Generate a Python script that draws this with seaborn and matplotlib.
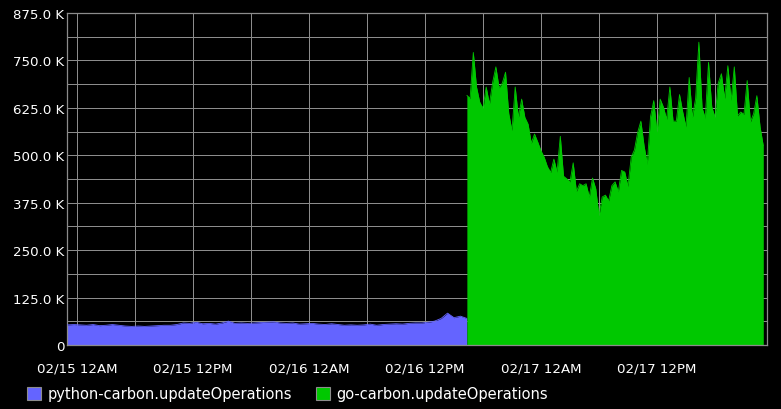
import pandas as pd
import numpy as np
import matplotlib
matplotlib.use("Agg")
import matplotlib.pyplot as plt
import matplotlib.dates as mdates
from matplotlib.patches import Patch
from matplotlib.ticker import FuncFormatter, MultipleLocator
import seaborn as sns

# python-carbon, 40 minute steps starting 02/14 23:00
python_start = "2015-02-14 23:00"
python_ops = [53, 54, 53, 52, 54, 51, 52, 54, 52, 50, 49, 50, 49, 50, 51, 52,
              52, 54, 58, 57, 60, 56, 57, 55, 58, 63, 57, 58, 57, 58, 59, 60,
              61, 58, 57, 58, 55, 56, 57, 55, 54, 56, 54, 52, 53, 52, 53, 55,
              52, 54, 55, 56, 55, 57, 58, 58, 60, 63, 70, 84, 72, 76, 70]

# go-carbon, 20 minute steps starting 02/16 16:20
go_start = "2015-02-16 16:20"
go_ops = [658, 650, 771, 680, 640, 624, 680, 635, 692, 733, 678, 690, 719, 610,
          565, 680, 600, 648, 600, 582, 532, 556, 535, 512, 495, 470, 455, 490,
          456, 550, 445, 438, 430, 480, 405, 425, 420, 425, 390, 440, 412, 341,
          390, 395, 380, 420, 430, 404, 460, 456, 418, 495, 514, 560, 590, 525,
          477, 602, 644, 561, 648, 627, 595, 680, 590, 590, 660, 614, 575, 705,
          600, 650, 798, 625, 598, 745, 628, 600, 690, 715, 650, 736, 645, 733,
          604, 614, 608, 697, 588, 610, 657, 575, 525]

labels = ["python-carbon.updateOperations", "go-carbon.updateOperations"]
colors = ["#6464ff", "#00c800"]

py = pd.DataFrame({"time": pd.date_range(python_start, periods=len(python_ops), freq="40min"),
                   "ops": np.array(python_ops) * 1000.0})
go = pd.DataFrame({"time": pd.date_range(go_start, periods=len(go_ops), freq="20min"),
                   "ops": np.array(go_ops) * 1000.0})

sns.set_style("dark", rc={"axes.facecolor": "black", "figure.facecolor": "black"})
plt.rcParams["font.family"] = ["DejaVu Sans"]

fig = plt.figure(figsize=(7.81, 4.10), dpi=100)
ax = fig.add_axes([67 / 781, 1 - 346 / 410, 700 / 781, 332 / 410])

for df, c in zip([py, go], colors):
    ax.fill_between(df["time"], 0, df["ops"], color=c, lw=0, zorder=2)
    sns.lineplot(data=df, x="time", y="ops", color=c, lw=0.6, ax=ax, zorder=3)

ax.set_xlim(pd.Timestamp("2015-02-14 22:58"), pd.Timestamp("2015-02-17 23:23"))
ax.set_ylim(0, 875000)

ax.xaxis.set_major_locator(mdates.HourLocator(byhour=[0, 12]))
ax.xaxis.set_minor_locator(mdates.HourLocator(byhour=[6, 18]))
ax.xaxis.set_major_formatter(mdates.DateFormatter("%m/%d %I%p"))
ax.yaxis.set_major_locator(MultipleLocator(125000))
ax.yaxis.set_minor_locator(MultipleLocator(62500))
ax.yaxis.set_major_formatter(FuncFormatter(lambda v, p: "0" if v == 0 else f"{v / 1000:.1f} K"))

ax.grid(True, which="both", color="#8c8c8c", lw=0.72, zorder=1)
ax.set_axisbelow(True)
ax.tick_params(which="both", length=0, colors="white", labelsize=9.6)
ax.tick_params(axis="x", pad=12)
ax.tick_params(axis="y", pad=2)
for s in ax.spines.values():
    s.set_visible(True)
    s.set_color("#8c8c8c")
    s.set_linewidth(0.9)
ax.set_xlabel("")
ax.set_ylabel("")

handles = [Patch(facecolor=c, edgecolor="#8c8c8c", lw=0.8) for c in colors]
leg = fig.legend(handles, labels, loc="center left", bbox_to_anchor=(27 / 781, 1 - 395 / 410),
                 ncol=2, frameon=False, fontsize=10.5, handlelength=0.96, handleheight=0.96,
                 handletextpad=0.48, columnspacing=1.58, borderpad=0, borderaxespad=0)
for t in leg.get_texts():
    t.set_color("white")

fig.savefig("out.png", dpi=100, facecolor="black")
